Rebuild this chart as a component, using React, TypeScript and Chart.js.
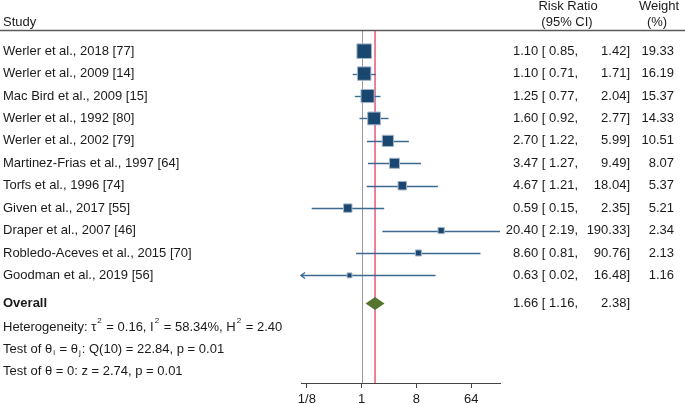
import React, { useEffect, useRef } from "react";
import { Chart, registerables } from "chart.js";

Chart.register(...registerables);

const studies = [
  "Werler et al., 2018 [77]",
  "Werler et al., 2009 [14]",
  "Mac Bird et al., 2009 [15]",
  "Werler et al., 1992 [80]",
  "Werler et al., 2002 [79]",
  "Martinez-Frias et al., 1997 [64]",
  "Torfs et al., 1996 [74]",
  "Given et al., 2017 [55]",
  "Draper et al., 2007 [46]",
  "Robledo-Aceves et al., 2015 [70]",
  "Goodman et al., 2019 [56]",
];
const riskRatio = [1.1, 1.1, 1.25, 1.6, 2.7, 3.47, 4.67, 0.59, 20.4, 8.6, 0.63];
const lowerCI = [0.85, 0.71, 0.77, 0.92, 1.22, 1.27, 1.21, 0.15, 2.19, 0.81, 0.02];
const upperCI = [1.42, 1.71, 2.04, 2.77, 5.99, 9.49, 18.04, 2.35, 190.33, 90.76, 16.48];
const weights = [19.33, 16.19, 15.37, 14.33, 10.51, 8.07, 5.37, 5.21, 2.34, 2.13, 1.16];

const overallRR = 1.66;
const overallLower = 1.16;
const overallUpper = 2.38;

const tickValues = [0.125, 1, 8, 64];
const tickLabels = ["1/8", "1", "8", "64"];
const axisMin = 0.1;
const axisMax = 190.33;

const FONT = '"Liberation Sans", Arial, sans-serif';
const TEXT = "#1a1a1a";
const NAVY = "#1a476f";
const CI_COLOR = "#3d6991";
const RED = "#e8587a";
const GREEN = "#55752f";

type Seg = { t: string; s?: "sup" | "sub" };

function drawRich(ctx: CanvasRenderingContext2D, segs: Seg[], x: number, y: number) {
  let cx = x;
  for (const seg of segs) {
    if (seg.s) {
      ctx.font = `8px ${FONT}`;
      const dy = seg.s === "sup" ? -6 : 3;
      ctx.fillText(seg.t, cx + 1, y + dy);
      cx += ctx.measureText(seg.t).width + 2;
    } else {
      ctx.font = `13px ${FONT}`;
      ctx.fillText(seg.t, cx, y);
      cx += ctx.measureText(seg.t).width;
    }
  }
}

export default function App() {
  const ref = useRef<HTMLCanvasElement>(null);

  useEffect(() => {
    if (!ref.current) return;
    const overallY = 11.25;
    const noteY = [12.3, 13.3, 14.3];

    const forestPlugin = {
      id: "forest",
      beforeDatasetsDraw(chart: any) {
        const { ctx, chartArea, scales } = chart;
        const x = scales.x;
        const y = scales.y;
        ctx.save();
        const x1 = Math.round(x.getPixelForValue(0)) + 0.5;
        ctx.strokeStyle = "#9a9a9a";
        ctx.lineWidth = 1;
        ctx.beginPath();
        ctx.moveTo(x1, chartArea.top);
        ctx.lineTo(x1, chartArea.bottom);
        ctx.stroke();
        const xo = x.getPixelForValue(Math.log2(overallRR));
        ctx.strokeStyle = RED;
        ctx.lineWidth = 1.5;
        ctx.beginPath();
        ctx.moveTo(xo, chartArea.top);
        ctx.lineTo(xo, chartArea.bottom);
        ctx.stroke();
        ctx.strokeStyle = CI_COLOR;
        ctx.lineWidth = 1.4;
        for (let i = 0; i < riskRatio.length; i++) {
          const py = Math.round(y.getPixelForValue(i)) + 0.5;
          let a = x.getPixelForValue(Math.log2(lowerCI[i]));
          let b = x.getPixelForValue(Math.log2(upperCI[i]));
          const clipL = a < chartArea.left;
          const clipR = b > chartArea.right;
          a = Math.max(a, chartArea.left);
          b = Math.min(b, chartArea.right);
          ctx.beginPath();
          ctx.moveTo(a, py);
          ctx.lineTo(b, py);
          ctx.stroke();
          if (clipL) {
            ctx.beginPath();
            ctx.moveTo(a + 4, py - 3);
            ctx.lineTo(a, py);
            ctx.lineTo(a + 4, py + 3);
            ctx.stroke();
          }
          if (clipR) {
            ctx.beginPath();
            ctx.moveTo(b - 4, py - 3);
            ctx.lineTo(b, py);
            ctx.lineTo(b - 4, py + 3);
            ctx.stroke();
          }
        }
        const dy = y.getPixelForValue(overallY);
        const dl = x.getPixelForValue(Math.log2(overallLower));
        const dr = x.getPixelForValue(Math.log2(overallUpper));
        const h = 6.5;
        ctx.fillStyle = GREEN;
        ctx.beginPath();
        ctx.moveTo(dl, dy);
        ctx.lineTo(xo, dy - h);
        ctx.lineTo(dr, dy);
        ctx.lineTo(xo, dy + h);
        ctx.closePath();
        ctx.fill();
        ctx.restore();
      },
      afterDraw(chart: any) {
        const { ctx, chartArea, scales } = chart;
        const y = scales.y;
        ctx.save();
        ctx.strokeStyle = "#5a5a5a";
        ctx.lineWidth = 1.5;
        ctx.beginPath();
        ctx.moveTo(0, chartArea.top - 0.5);
        ctx.lineTo(chart.width, chartArea.top - 0.5);
        ctx.stroke();

        ctx.fillStyle = TEXT;
        ctx.textBaseline = "middle";
        ctx.font = `13px ${FONT}`;
        ctx.textAlign = "left";
        ctx.fillText("Study", 3, 22);
        ctx.textAlign = "center";
        ctx.fillText("Risk Ratio", 568, 6);
        ctx.fillText("(95% CI)", 567, 22);
        ctx.fillText("Weight", 659, 6);
        ctx.fillText("(%)", 657, 22);

        for (let i = 0; i < studies.length; i++) {
          const py = y.getPixelForValue(i);
          ctx.textAlign = "left";
          ctx.fillText(studies[i], 3, py);
          ctx.textAlign = "right";
          ctx.fillText(`${riskRatio[i].toFixed(2)} [ ${lowerCI[i].toFixed(2)},`, 578, py);
          ctx.fillText(`${upperCI[i].toFixed(2)}]`, 630, py);
          ctx.fillText(weights[i].toFixed(2), 674, py);
        }
        const oy = y.getPixelForValue(overallY);
        ctx.textAlign = "left";
        ctx.font = `bold 13px ${FONT}`;
        ctx.fillText("Overall", 3, oy);
        ctx.font = `13px ${FONT}`;
        ctx.textAlign = "right";
        ctx.fillText(`${overallRR.toFixed(2)} [ ${overallLower.toFixed(2)},`, 578, oy);
        ctx.fillText(`${overallUpper.toFixed(2)}]`, 630, oy);

        ctx.textAlign = "left";
        drawRich(
          ctx,
          [
            { t: "Heterogeneity: τ" },
            { t: "2", s: "sup" },
            { t: " = 0.16, I" },
            { t: "2", s: "sup" },
            { t: " = 58.34%, H" },
            { t: "2", s: "sup" },
            { t: " = 2.40" },
          ],
          3,
          y.getPixelForValue(noteY[0])
        );
        drawRich(
          ctx,
          [
            { t: "Test of θ" },
            { t: "i", s: "sub" },
            { t: " = θ" },
            { t: "j", s: "sub" },
            { t: ": Q(10) = 22.84, p = 0.01" },
          ],
          3,
          y.getPixelForValue(noteY[1])
        );
        drawRich(ctx, [{ t: "Test of θ = 0: z = 2.74, p = 0.01" }], 3, y.getPixelForValue(noteY[2]));
        ctx.restore();
      },
    };

    const chart = new Chart(ref.current, {
      type: "scatter",
      data: {
        datasets: [
          {
            data: riskRatio.map((v, i) => ({ x: Math.log2(v), y: i })),
            pointStyle: "rect",
            pointRadius: (c: any) => (2.9 * Math.sqrt(weights[c.dataIndex]) + 1.8) / Math.SQRT2,
            backgroundColor: NAVY,
            borderColor: "#a3b6c9",
            borderWidth: 1,
          },
        ],
      },
      options: {
        responsive: false,
        animation: false,
        devicePixelRatio: 1,
        events: [],
        layout: { padding: { left: 301, right: 185, top: 31, bottom: 0 } },
        plugins: { legend: { display: false }, tooltip: { enabled: false } },
        scales: {
          x: {
            type: "linear",
            min: Math.log2(axisMin),
            max: Math.log2(axisMax),
            afterBuildTicks: (scale: any) => {
              scale.ticks = tickValues.map((v) => ({ value: Math.log2(v) }));
            },
            afterFit: (scale: any) => {
              scale.height = 21;
            },
            ticks: {
              autoSkip: false,
              maxRotation: 0,
              padding: 4,
              color: TEXT,
              font: { family: FONT, size: 13 },
              callback: (_v: any, idx: number) => tickLabels[idx],
            },
            grid: { drawOnChartArea: false, drawTicks: true, tickLength: 5, color: "#444" },
            border: { display: true, color: "#444", width: 1 },
          },
          y: {
            type: "linear",
            display: false,
            reverse: true,
            min: -0.9,
            max: 14.8,
          },
        },
      },
      plugins: [forestPlugin],
    } as any);
    return () => chart.destroy();
  }, []);

  return (
    <div style={{ position: "fixed", left: 0, top: 0, width: 685, height: 404, background: "#fff" }}>
      <canvas ref={ref} width={685} height={404} style={{ display: "block", width: 685, height: 404 }} />
    </div>
  );
}
